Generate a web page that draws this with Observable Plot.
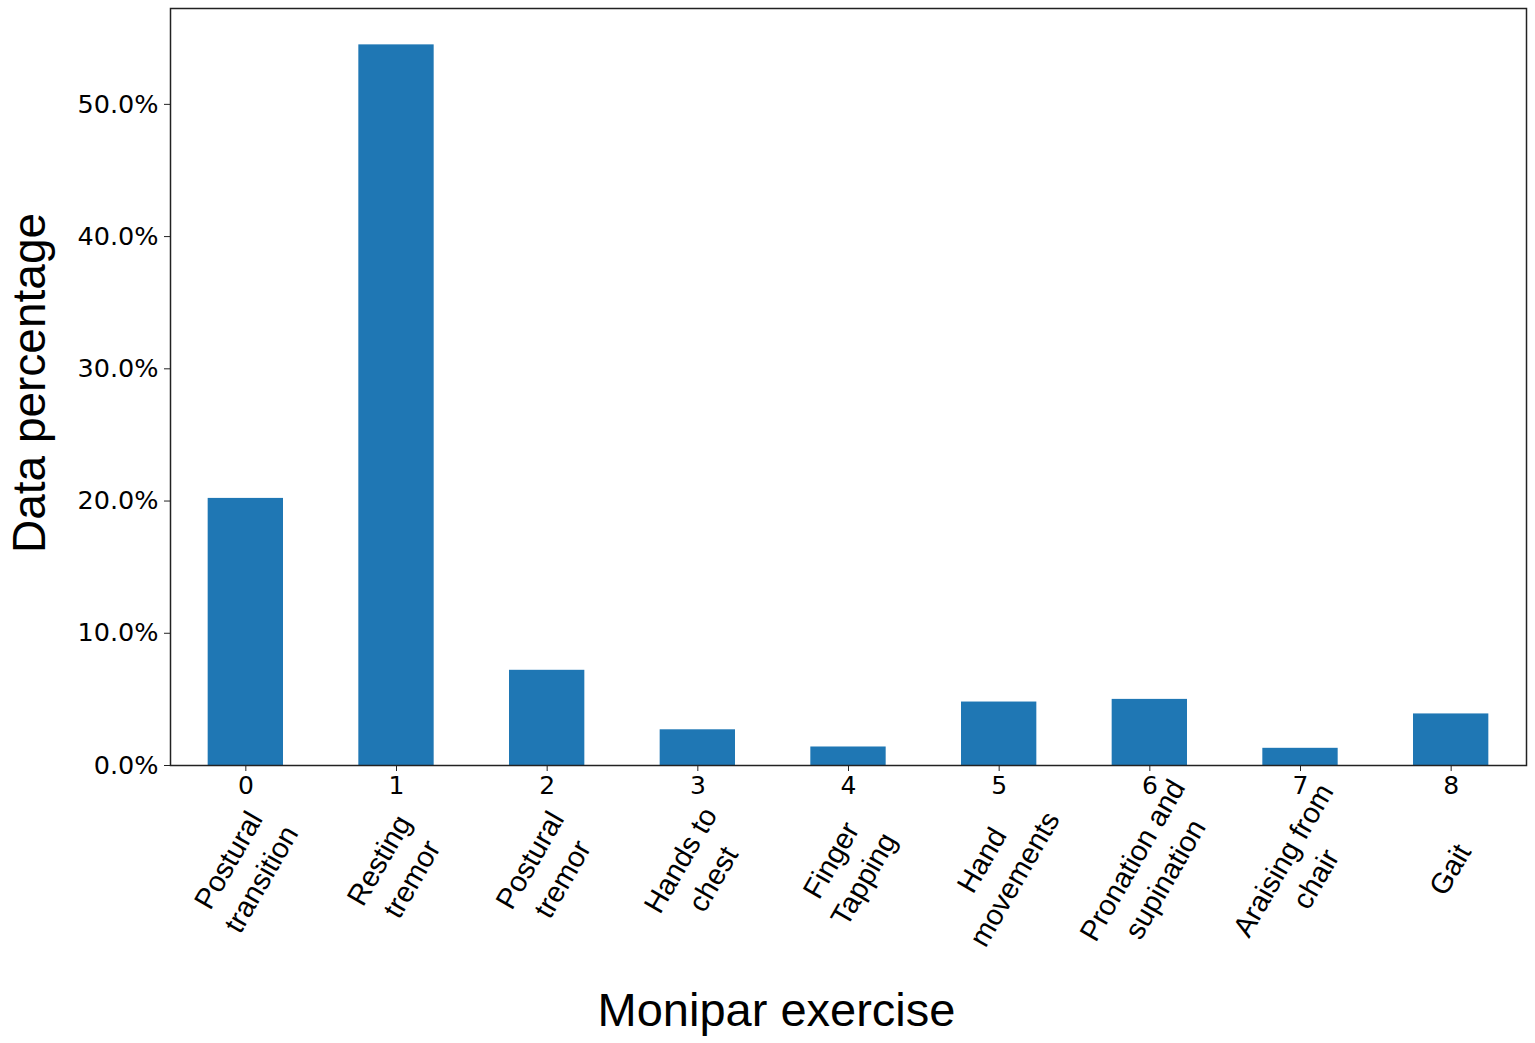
<!DOCTYPE html>
<html>
<head>
<meta charset="utf-8">
<script src="https://cdn.jsdelivr.net/npm/d3@7"></script>
<script src="https://cdn.jsdelivr.net/npm/@observablehq/plot@0.6"></script>
<style>
  html, body { margin: 0; padding: 0; background: #fff; }
  #chart svg { display: block; }
</style>
</head>
<body>
<div id="chart"></div>
<script>
const categories = ["0", "1", "2", "3", "4", "5", "6", "7", "8"];
const exercises = [
  "Postural\ntransition",
  "Resting\ntremor",
  "Postural\ntremor",
  "Hands to\nchest",
  "Finger\nTapping",
  "Hand\nmovements",
  "Pronation and\nsupination",
  "Araising from\nchair",
  "Gait"
];
const percentages = [20.2, 54.5, 7.2, 2.7, 1.4, 4.8, 5.0, 1.3, 3.9];
const yTicks = [0, 10, 20, 30, 40, 50];
const xTitle = "Monipar exercise";
const yTitle = "Data percentage";

const data = categories.map((c, i) => ({cat: c, ex: exercises[i], pct: percentages[i]}));

const chart = Plot.plot({
  width: 1535,
  height: 1043,
  marginLeft: 170,
  marginRight: 9,
  marginTop: 8,
  marginBottom: 278,
  style: {fontFamily: "DejaVu Sans", fontSize: "25px", background: "white", color: "#000"},
  x: {type: "band", domain: categories, paddingInner: 0.5, paddingOuter: 0.25, round: false, label: null},
  y: {domain: [0, 57.25], label: null},
  marks: [
    Plot.barY(data, {x: "cat", y: "pct", fill: "#1f77b4"}),
    Plot.axisX({tickSize: 6, tickPadding: 5, fontSize: 25, label: null, stroke: "#222"}),
    Plot.axisY({ticks: yTicks, tickSize: 6, tickPadding: 6, fontSize: 25.5, label: null, stroke: "#222",
      tickFormat: d => d.toFixed(1) + "%"}),
    Plot.frame({stroke: "#222", strokeWidth: 1.5}),
    Plot.text(data, {x: "cat", text: "ex", frameAnchor: "bottom", dx: -3, dy: 103, rotate: -60,
      lineAnchor: "middle", textAnchor: "middle", fontFamily: "Liberation Sans",
      fontSize: 29, lineHeight: 1.3, fill: "#000"}),
    Plot.text([xTitle], {text: d => d, frameAnchor: "bottom", dx: -72, dy: 245,
      fontFamily: "Liberation Sans", fontSize: 47, fill: "#000", lineAnchor: "middle"}),
    Plot.text([yTitle], {text: d => d, frameAnchor: "left", dx: -140, dy: -4, rotate: -90,
      fontFamily: "Liberation Sans", fontSize: 46, fill: "#000", lineAnchor: "middle", textAnchor: "middle"})
  ]
});
document.getElementById("chart").appendChild(chart);
</script>
</body>
</html>
